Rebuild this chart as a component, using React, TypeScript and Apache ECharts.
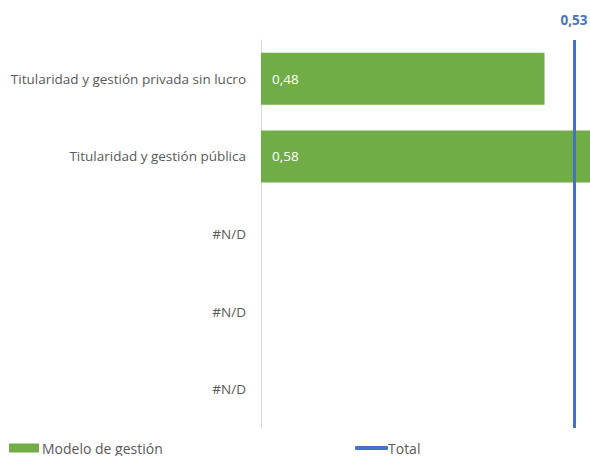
import React, { useEffect, useRef } from "react";
import * as echarts from "echarts";

const categories = [
  "Titularidad y gestión privada sin lucro",
  "Titularidad y gestión pública",
  "#N/D",
  "#N/D",
  "#N/D",
];
const modeloValues: (number | null)[] = [0.48, 0.58, null, null, null];
const totalValue = 0.53;
const fmt = (v: number) => v.toFixed(2).replace(".", ",");

export default function App() {
  const ref = useRef<HTMLDivElement>(null);
  useEffect(() => {
    if (!ref.current) return;
    const chart = echarts.init(ref.current, undefined, { renderer: "svg" });
    const font = "'Open Sans', sans-serif";
    chart.setOption({
      animation: false,
      textStyle: { fontFamily: font },
      grid: { left: 261, right: 0, top: 40, bottom: 28, containLabel: false },
      xAxis: {
        type: "value",
        min: 0,
        max: 0.557,
        show: false,
      },
      yAxis: {
        type: "category",
        data: categories,
        inverse: true,
        axisLine: { show: true, lineStyle: { color: "#D9D9D9", width: 1 } },
        axisTick: { show: false },
        axisLabel: { color: "#595959", fontSize: 13.5, margin: 15, fontFamily: font },
      },
      legend: [
        {
          left: 9,
          top: 441,
          padding: 0,
          itemWidth: 30,
          itemHeight: 9,
          itemGap: 0,
          textStyle: { color: "#595959", fontSize: 14, fontFamily: font, padding: [0, 0, 0, -2] },
          data: [{ name: "Modelo de gestión", icon: "rect" }],
        },
        {
          left: 355,
          top: 441,
          padding: 0,
          itemWidth: 33,
          itemHeight: 4,
          textStyle: { color: "#595959", fontSize: 14, fontFamily: font, padding: [0, 0, 0, -5] },
          data: [{ name: "Total", icon: "roundRect" }],
        },
      ],
      series: [
        {
          name: "Modelo de gestión",
          type: "bar",
          data: modeloValues,
          barCategoryGap: "33%",
          itemStyle: { color: "#70AD47" },
          label: {
            show: true,
            position: "insideLeft",
            distance: 11,
            color: "#FFFFFF",
            fontSize: 13.5,
            fontFamily: font,
            formatter: (p: any) => (p.value == null ? "" : fmt(p.value)),
          },
          markLine: {
            silent: true,
            symbol: "none",
            lineStyle: { color: "#4472C4", width: 3, type: "solid" },
            label: {
              show: true,
              position: "start",
              distance: 13,
              color: "#4472C4",
              fontWeight: "bold",
              fontSize: 13.5,
              fontFamily: font,
              formatter: () => fmt(totalValue),
            },
            data: [{ xAxis: totalValue }],
          },
        },
        {
          name: "Total",
          type: "line",
          data: [],
          symbol: "none",
          itemStyle: { color: "#4472C4" },
          lineStyle: { color: "#4472C4", width: 3 },
        },
      ],
    });
    return () => chart.dispose();
  }, []);
  return <div ref={ref} style={{ width: 590, height: 456, position: "absolute", left: 0, top: 0 }} />;
}
